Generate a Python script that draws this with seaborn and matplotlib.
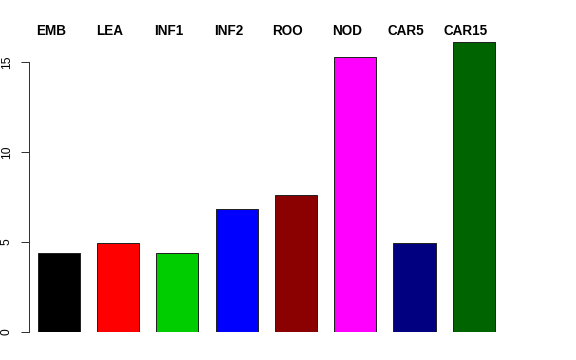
import matplotlib
matplotlib.use("Agg")
import matplotlib.pyplot as plt
import seaborn as sns
import pandas as pd

categories = ["EMB", "LEA", "INF1", "INF2", "ROO", "NOD", "CAR5", "CAR15"]
values = [4.38, 4.91, 4.36, 6.80, 7.60, 15.30, 4.92, 16.09]
colors = ["#000000", "#FF0000", "#00CD00", "#0000FF", "#8B0000", "#FF00FF", "#000080", "#006400"]
yticks = [0, 5, 10, 15]

plt.rcParams["font.family"] = ["Liberation Sans", "DejaVu Sans"]

df = pd.DataFrame({"cat": categories, "val": values})

fig = plt.figure(figsize=(8, 5), dpi=72)
ax = fig.add_axes([29.3 / 576, 28.5 / 360, 480 / 576, 305.5 / 360])

sns.barplot(data=df, x="cat", y="val", hue="cat", palette=colors, legend=False,
            width=0.71, saturation=1, edgecolor="#222222", linewidth=1.0, ax=ax)

ax.set_xlim(-0.5, 7.6)
ax.set_ylim(0, 17)
ax.set_xlabel("")
ax.set_ylabel("")
ax.set_xticks([])
ax.set_yticks(yticks)
ax.set_yticklabels([str(t) for t in yticks], rotation=90, va="center", fontsize=12)
ax.tick_params(axis="y", length=8.5, width=1, pad=8, color="#333333")
for s in ["top", "right", "bottom"]:
    ax.spines[s].set_visible(False)
ax.spines["left"].set_bounds(0, 15)
ax.spines["left"].set_color("#333333")
ax.spines["left"].set_linewidth(1)

for i, c in enumerate(categories):
    ax.text(i - 0.14, 16.5, c, ha="center", va="baseline", fontsize=13.5,
            fontweight="bold", clip_on=False)

fig.savefig("out.png", dpi=72, facecolor="white")
